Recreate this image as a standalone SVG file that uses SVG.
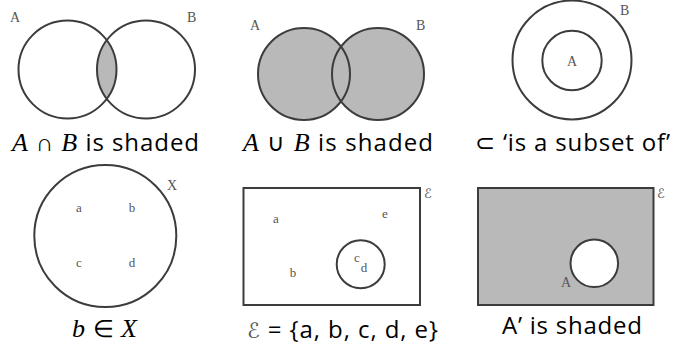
<svg xmlns="http://www.w3.org/2000/svg" width="683" height="345" viewBox="0 0 683 345">
<style>
.ln{fill:none;stroke:#3c3c3c;stroke-width:2}
.sh{fill:#b9b9b9;stroke:#3c3c3c;stroke-width:2}
.lbl{font-family:"Liberation Serif","DejaVu Serif",serif;font-size:14px;fill:#555}
.sm{font-family:"Liberation Serif","DejaVu Serif",serif;font-size:13px;fill:#555}
.cap{font-family:"Open Sans","Liberation Sans",sans-serif;font-size:24px;fill:#000}
.it{font-family:"Liberation Serif","DejaVu Serif",serif;font-style:italic;font-size:26px}
.scr{font-family:"DejaVu Serif","DejaVu Sans",serif;fill:#555}
</style>
<defs>
<clipPath id="clipA"><circle cx="67.5" cy="69.5" r="49"/></clipPath>
</defs>
<rect width="683" height="345" fill="#fff"/>

<g id="intersection">
<circle cx="146" cy="69.5" r="49" fill="#b9b9b9" clip-path="url(#clipA)"/>
<circle class="ln" cx="67.5" cy="69.5" r="49"/>
<circle class="ln" cx="146" cy="69.5" r="49"/>
<text class="lbl" x="10" y="22" font-size="16">A</text>
<text class="lbl" x="187" y="22" font-size="16">B</text>
<text class="cap" x="12" y="151" textLength="187" lengthAdjust="spacing"><tspan class="it">A</tspan> ∩ <tspan class="it">B</tspan> is shaded</text>
</g>

<g id="union">
<circle cx="304" cy="74" r="46" fill="#b9b9b9"/>
<circle cx="378" cy="74" r="46" fill="#b9b9b9"/>
<circle class="ln" cx="304" cy="74" r="46"/>
<circle class="ln" cx="378" cy="74" r="46"/>
<text class="lbl" x="250" y="30" font-size="16">A</text>
<text class="lbl" x="416" y="30" font-size="16">B</text>
<text class="cap" x="243" y="151" textLength="190" lengthAdjust="spacing"><tspan class="it">A</tspan> ∪ <tspan class="it">B</tspan> is shaded</text>
</g>

<g id="subset">
<circle class="ln" cx="572" cy="60" r="59.5"/>
<circle class="ln" cx="572" cy="60.5" r="29.7"/>
<text class="lbl" x="572" y="66" text-anchor="middle">A</text>
<text class="lbl" x="620" y="15" font-size="16">B</text>
<text class="cap" x="475" y="151" textLength="195" lengthAdjust="spacing">⊂ ‘is a subset of’</text>
</g>

<g id="element">
<circle class="ln" cx="105.3" cy="236" r="71"/>
<text class="lbl" x="167" y="190" font-size="16">X</text>
<text class="sm" x="79" y="212" text-anchor="middle">a</text>
<text class="sm" x="132" y="212" text-anchor="middle">b</text>
<text class="sm" x="79" y="267" text-anchor="middle">c</text>
<text class="sm" x="132" y="267" text-anchor="middle">d</text>
<text class="cap" x="72" y="337" textLength="65" lengthAdjust="spacing"><tspan class="it">b</tspan> ∈ <tspan class="it">X</tspan></text>
</g>

<g id="universal">
<rect class="ln" x="243.5" y="188" width="176.5" height="117"/>
<circle class="ln" cx="360.7" cy="264.3" r="24"/>
<text class="scr" x="424" y="198" font-size="13">ℰ</text>
<text class="sm" x="276" y="223" text-anchor="middle">a</text>
<text class="sm" x="385" y="218" text-anchor="middle">e</text>
<text class="sm" x="293" y="277" text-anchor="middle">b</text>
<text class="sm" x="357" y="262" text-anchor="middle">c</text>
<text class="sm" x="364" y="272" text-anchor="middle">d</text>
<text class="cap" x="247" y="338" textLength="191" lengthAdjust="spacing"><tspan class="scr" font-size="21">ℰ</tspan> = {a, b, c, d, e}</text>
</g>

<g id="complement">
<rect class="sh" x="478" y="188" width="175.5" height="117"/>
<circle cx="594.3" cy="263.3" r="23.8" fill="#fff" stroke="#3c3c3c" stroke-width="2"/>
<text class="lbl" x="561" y="287">A</text>
<text class="scr" x="657" y="198" font-size="13">ℰ</text>
<text class="cap" x="502" y="334" textLength="140" lengthAdjust="spacing">A’ is shaded</text>
</g>
</svg>
